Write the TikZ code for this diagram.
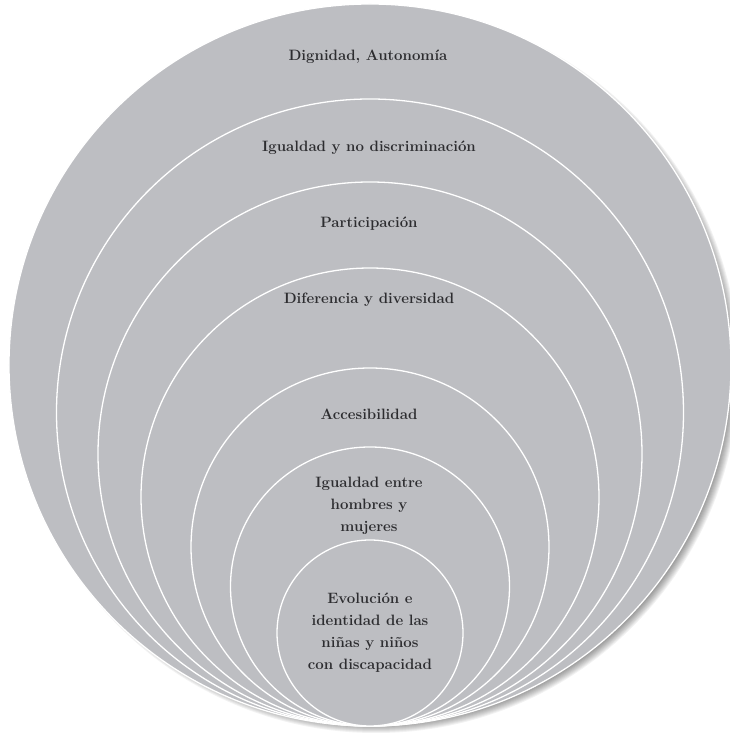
\documentclass[tikz,border=0pt]{standalone}
\definecolor{ringgrey}{RGB}{189,190,194}
\definecolor{labelgrey}{RGB}{45,45,48}

\begin{document}
\begin{tikzpicture}[x=1pt, y=1pt,
    ring/.style={fill=ringgrey, draw=white, line width=1.3pt},
    ringlabel/.style={text=labelgrey, font=\bfseries\fontsize{15}{22}\selectfont, align=center}]
    \useasboundingbox (-370,-7) rectangle (360,726);

    % Soft shadow of the outer ring
    \foreach \s in {0,...,11}
        \fill[black, opacity=0.05] (6,356) circle (352+\s);

    % Rings, all touching at the bottom
    \foreach \r in {361,313.5,272,229,179,139.5,93}
        \filldraw[ring] (0,\r) circle (\r);

    % Labels
    \node[ringlabel] (dignidad) at (-2,669) {Dignidad, Autonomía};
    \node[ringlabel] (igualdad) at (-1,578) {Igualdad y no discriminación};
    \node[ringlabel] (participacion) at (-1,502) {Participación};
    \node[ringlabel] (diferencia) at (-1,426) {Diferencia y diversidad};
    \node[ringlabel] (accesibilidad) at (-1,312) {Accesibilidad};
    \node[ringlabel] (genero) at (-1,220) {Igualdad entre\\hombres y\\mujeres};
    \node[ringlabel] (evolucion) at (0,93) {Evolución e\\identidad de las\\niñas y niños\\con discapacidad};
\end{tikzpicture}
\end{document}
